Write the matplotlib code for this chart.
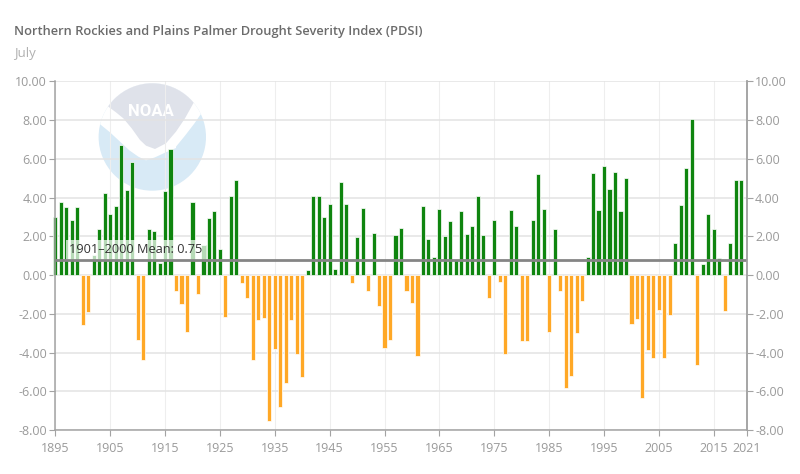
import matplotlib
matplotlib.use("Agg")
import matplotlib.pyplot as plt
from matplotlib.patches import Circle, Polygon

plt.rcParams['font.family'] = ['Open Sans', 'DejaVu Sans']

years = list(range(1895, 2021))
pdsi = [
    3.00, 3.78, 3.52, 2.84, 3.52, -2.60, -1.90, 1.05, 2.35, 4.24,
    3.13, 3.57, 6.73, 4.40, 5.84, -3.33, -4.40, 2.35, 2.28, 0.60,
    4.35, 6.50, -0.83, -1.50, -2.95, 3.78, -1.00, 1.55, 2.95, 3.30,
    1.32, -2.17, 4.07, 4.90, -0.40, -1.20, -4.40, -2.33, -2.20, -7.55,
    -3.83, -6.83, -5.55, -2.33, -4.10, -5.28, 0.28, 4.07, 4.07, 2.97,
    3.69, 0.30, 4.79, 3.69, -0.43, 1.97, 3.47, -0.82, 2.18, -1.60,
    -3.78, -3.33, 2.08, 2.45, -0.83, -1.45, -4.20, 3.57, 1.87, 0.93,
    3.40, 2.02, 2.81, 0.75, 3.30, 2.13, 2.52, 4.07, 2.08, -1.17,
    2.86, -0.38, -4.10, 3.35, 2.52, -3.43, -3.43, 2.86, 5.23, 3.40,
    -2.93, 2.40, -0.83, -5.83, -5.20, -3.00, -1.33, 0.91, 5.27, 3.35,
    5.62, 4.45, 5.33, 3.28, 5.00, -2.55, -2.27, -6.37, -3.85, -4.30,
    -1.83, -4.30, -2.05, 1.63, 3.64, 5.55, 8.05, -4.65, 0.57, 3.13,
    2.40, 0.86, -1.88, 1.63, 4.90, 4.90,
]
mean_pdsi = 0.75
mean_label = "1901–2000 Mean: 0.75"
title = "Northern Rockies and Plains Palmer Drought Severity Index (PDSI)"
subtitle = "July"
x_ticks = [1895, 1905, 1915, 1925, 1935, 1945, 1955, 1965, 1975, 1985, 1995, 2005, 2015, 2021]
y_ticks = [-8, -6, -4, -2, 0, 2, 4, 6, 8, 10]

W, H = 800, 474
LEFT, RIGHT, TOP, BOTTOM = 55.3, 746.7, 81.3, 430.0
GREEN = '#0f850f'
ORANGE = '#ffa826'
GREY = '#a3a3a3'
LABEL = '#9a9a9a'

fig = plt.figure(figsize=(W / 100, H / 100), dpi=100)

# watermark sits behind the chart, drawn in pixel coordinates
bg = fig.add_axes([0, 0, 1, 1], zorder=0)
bg.set_xlim(0, W)
bg.set_ylim(H, 0)
bg.axis('off')


def zoomed(points):
    return [(90 + x / 3, 75 + y / 3) for x, y in points]


disc = Circle((152.3, 137), 53.7, facecolor='#d8eaf6', edgecolor='none')
bg.add_patch(disc)
white_part = Polygon(zoomed([(0, 0), (375, 0), (375, 100), (332, 118), (312, 147), (285, 182), (258, 215),
                             (258, 219), (225, 233), (195, 247), (168, 256), (145, 245), (118, 226), (88, 198),
                             (60, 172), (27, 145), (0, 125)]), facecolor='white', edgecolor='none')
bg.add_patch(white_part)
white_part.set_clip_path(disc)
grey_part = Polygon(zoomed([(55, 95), (0, 0), (375, 0), (310, 85), (285, 130), (258, 170), (228, 205),
                            (195, 222), (168, 212), (150, 195), (125, 160), (100, 130), (78, 112)]),
                    facecolor='#dfe2ea', edgecolor='none')
bg.add_patch(grey_part)
grey_part.set_clip_path(Circle((152.3, 137), 53.7, transform=bg.transData))
bg.text(151, 111, "NOAA", color='white', fontsize=12, fontweight='bold', family='Roboto', ha='center', va='center')

ax = fig.add_axes([LEFT / W, 1 - BOTTOM / H, (RIGHT - LEFT) / W, (BOTTOM - TOP) / H], zorder=1)
ax.patch.set_alpha(0)
ax.set_xlim(1895, 2021)
ax.set_ylim(-8, 10)

ax.set_axisbelow(True)
ax.grid(axis='y', color='#e3e3e3', linewidth=1.1)
ax.grid(axis='x', color='#eeeeee', linewidth=0.8)

colors = [GREEN if v >= 0 else ORANGE for v in pdsi]
ax.bar(years, pdsi, width=0.75, color=colors, edgecolor='white', linewidth=0.5, clip_on=False, zorder=2)

ax.text(1897.5, 1.3, mean_label, color='#333333', fontsize=9.2, ha='left', va='center', zorder=3,
        bbox=dict(facecolor='white', alpha=0.7, edgecolor='none', pad=2.5))
ax.plot([1895, 2021], [mean_pdsi, mean_pdsi], color='#858585', linewidth=2, solid_capstyle='butt', zorder=4)

ax.set_xticks(x_ticks)
ax.set_xticklabels([str(y) for y in x_ticks])
ax.set_yticks(y_ticks)
ax.set_yticklabels([f"{v:.2f}" for v in y_ticks])
ax.tick_params(axis='y', colors=GREY, labelcolor=LABEL, labelsize=9, length=4, width=0.8, pad=2)
ax.tick_params(axis='x', colors=GREY, labelcolor=LABEL, labelsize=9, length=4, width=0.8, pad=4.5)

for name in ['top']:
    ax.spines[name].set_visible(False)
for name in ['left', 'right', 'bottom']:
    ax.spines[name].set_color(GREY)
    ax.spines[name].set_linewidth(1.1)

ax2 = ax.twinx()
ax2.set_zorder(2)
ax2.set_ylim(-8, 10)
ax2.set_yticks(y_ticks)
ax2.set_yticklabels([f"{v:.2f}" for v in y_ticks])
ax2.tick_params(axis='y', colors=GREY, labelcolor=LABEL, labelsize=9, length=4, width=0.8, pad=2)
for name in ['top', 'left', 'bottom']:
    ax2.spines[name].set_visible(False)
ax2.spines['right'].set_color(GREY)
ax2.spines['right'].set_linewidth(1.1)

fig.text(14 / W, 1 - 32 / H, title, color='#6b6b6b', fontsize=9.3, fontweight='semibold', ha='left', va='center')
fig.text(14 / W, 1 - 53 / H, subtitle, color='#b0b0b0', fontsize=9.5, ha='left', va='center')

fig.savefig('out.png', dpi=100)
